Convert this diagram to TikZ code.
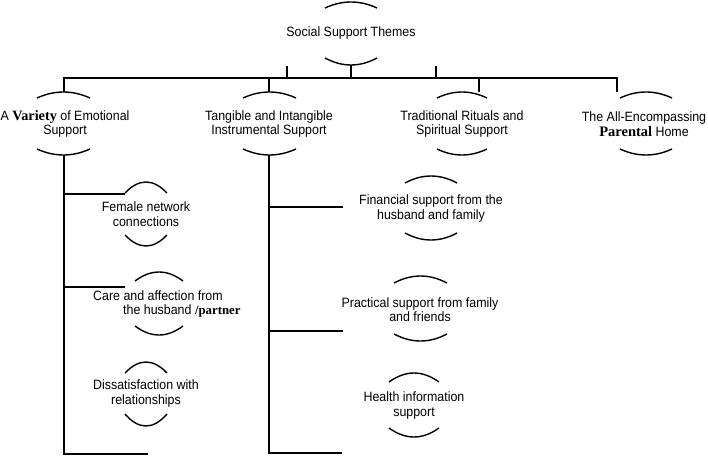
\documentclass[tikz,border=0pt]{standalone}
\usepackage{fontspec}
\setmainfont{Liberation Sans}[FakeStretch=0.92]
\newfontfamily\serifb{Liberation Serif}
\newcommand\SB[2]{{\fontsize{#1}{#1}\serifb\bfseries #2}}
\newcommand\capc[4]{\draw[brace] (#1,#3) .. controls ({#1+(#2-#1)/3},{#3+4*(#4-#3)/3}) and ({#2-(#2-#1)/3},{#3+4*(#4-#3)/3}) .. (#2,#3);}
\tikzset{
  ln/.style={line width=1.8pt},
  brace/.style={line width=1.4pt},
  lbl/.style={align=center, inner sep=0pt, font=\fontsize{13.5}{14.5}\selectfont},
}
\begin{document}
\begin{tikzpicture}[x=1pt,y=-1pt]
\fill[white] (0,0) rectangle (708,457);
\useasboundingbox (0,0) rectangle (708,457);

% root
\node[lbl] (root) at (351,33.5) {Social Support Themes};
\capc{325}{377}{8}{2}
\capc{325}{377}{58}{65}
\coordinate (rootb) at (351,65);
\coordinate (bar) at (351,78);
\coordinate (barL) at (64,78);
\coordinate (barR) at (617,78);
\coordinate (d1) at (64,92);
\coordinate (d4) at (617,92);
\draw[ln] (d1) -- (barL) -- (barR) -- (d4);
\draw[ln] (rootb) -- (bar);
\coordinate (t1a) at (287,66); \coordinate (t1b) at (287,78);
\coordinate (t2a) at (436,66); \coordinate (t2b) at (436,78);
\draw[ln] (t1a) -- (t1b);
\draw[ln] (t2a) -- (t2b);
\coordinate (d2a) at (269,78); \coordinate (d2b) at (269,92);
\coordinate (d3a) at (479,78); \coordinate (d3b) at (479,92);
\draw[ln] (d2a) -- (d2b);
\draw[ln] (d3a) -- (d3b);

% level 1
\node[lbl] (emo) at (65,124) {A \SB{14.3}{Variety} of Emotional\\Support};
\capc{37}{90}{98}{92}
\capc{37}{90}{149}{155}
\node[lbl] (tan) at (269,124) {Tangible and Intangible\\Instrumental Support};
\capc{243}{296}{98}{92}
\capc{243}{296}{149}{155}
\node[lbl] (tra) at (462,124) {Traditional Rituals and\\Spiritual Support};
\capc{437}{487}{98}{92}
\capc{437}{487}{149}{155}
\node[lbl] (home) at (644,124) {The All-Encompassing\\\SB{14.5}{Parental} Home};
\capc{620}{672}{98}{92}
\capc{620}{672}{149}{155}

% emotional column
\coordinate (e0) at (64,155);
\coordinate (e1) at (64,454);
\coordinate (e2) at (148,454);
\draw[ln] (e0) -- (e1) -- (e2);
\coordinate (fA) at (64,194); \coordinate (fB) at (125,194);
\coordinate (cA) at (64,287); \coordinate (cB) at (125,287);
\draw[ln] (fA) -- (fB);
\draw[ln] (cA) -- (cB);

% tangible column
\coordinate (g0) at (269,155);
\coordinate (g1) at (269,453);
\coordinate (g2) at (342,453);
\draw[ln] (g0) -- (g1) -- (g2);
\coordinate (nA) at (269,207); \coordinate (nB) at (343,207);
\coordinate (pA) at (269,331); \coordinate (pB) at (343,331);
\draw[ln] (nA) -- (nB);
\draw[ln] (pA) -- (pB);

% level 2, emotional
\node[lbl] (fem) at (146,214) {Female network\\connections};
\capc{125}{167}{193}{182}
\capc{125}{167}{235}{246}
\node[lbl,align=left,anchor=west] (care) at (93,304) {Care and affection from\\\hspace*{30pt}the husband \SB{12.8}{/partner}};
\capc{135}{183}{281}{272}
\capc{135}{183}{326}{335}
\node[lbl] (dis) at (146,393.5) {Dissatisfaction with\\relationships};
\capc{125}{167}{373}{362}
\capc{125}{167}{414}{426}

% level 2, tangible
\node[lbl] (fin) at (431,208.5) {Financial support from the\\husband and family};
\capc{405}{457}{183}{176}
\capc{405}{457}{233}{240}
\node[lbl] (pra) at (420,309.5) {Practical support from family\\and friends};
\capc{394}{447}{283}{276}
\capc{394}{447}{334}{341}
\node[lbl] (hea) at (414,405.5) {Health information\\support};
\capc{389}{439}{382}{373}
\capc{389}{439}{428}{437}
\end{tikzpicture}
\end{document}
